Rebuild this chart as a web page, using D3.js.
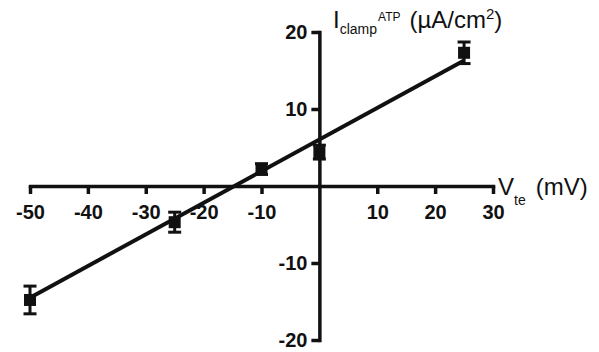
<!DOCTYPE html>
<html lang="en">
<head>
    <meta charset="UTF-8">
    <title>Iclamp ATP vs Vte</title>
    <script src="https://d3js.org/d3.v7.min.js"></script>
    <style>
        body { margin: 0; background: #fff; }
        svg { display: block; }
        .axis path, .axis line { stroke: #111; stroke-width: 3.5px; }
        .axis text {
            font-family: "Liberation Sans", Arial, sans-serif;
            font-size: 20px;
            font-weight: bold;
            fill: #111;
        }
        .title {
            font-family: "Liberation Sans", Arial, sans-serif;
            fill: #111;
        }
    </style>
</head>
<body>
    <svg width="599" height="352"></svg>

    <script>
        // data
        const voltage = [-50, -25, -10, 0, 25];
        const current = [-14.8, -4.7, 2.2, 4.4, 17.3];
        const errors = [1.8, 1.3, 0.7, 0.9, 1.4];

        // linear fit, end points
        const fitX = [-50, 25];
        const fitY = [-14.5, 16.3];

        const xTicks = [-50, -40, -30, -20, -10, 10, 20, 30];
        const yTicks = [-20, -10, 10, 20];

        const svg = d3.select("svg");

        const x = d3.scaleLinear().domain([-50, 30]).range([30, 493]);
        const y = d3.scaleLinear().domain([-20, 20]).range([340, 32]);

        const plain = d => String(d); // hyphen, not unicode minus

        // x axis through y = 0
        svg.append("g")
            .attr("class", "axis")
            .attr("transform", `translate(0,${y(0)})`)
            .call(d3.axisBottom(x)
                .tickValues(xTicks)
                .tickFormat(plain)
                .tickSize(8)
                .tickSizeOuter(0)
                .tickPadding(11));

        // y axis through x = 0
        svg.append("g")
            .attr("class", "axis")
            .attr("transform", `translate(${x(0)},0)`)
            .call(d3.axisLeft(y)
                .tickValues(yTicks)
                .tickFormat(plain)
                .tickSize(8)
                .tickSizeOuter(0)
                .tickPadding(4));

        svg.selectAll(".axis .domain").attr("stroke-linecap", "square");

        // fit line
        const line = d3.line().x(d => x(d[0])).y(d => y(d[1]));
        svg.append("path")
            .datum(fitX.map((v, i) => [v, fitY[i]]))
            .attr("d", line)
            .attr("fill", "none")
            .attr("stroke", "#111")
            .attr("stroke-width", 4);

        const pts = voltage.map((v, i) => ({ v: v, c: current[i], e: errors[i] }));

        // error bars
        const bars = svg.append("g").selectAll("g")
            .data(pts)
            .enter().append("g");

        bars.append("line")
            .attr("x1", d => x(d.v)).attr("x2", d => x(d.v))
            .attr("y1", d => y(d.c + d.e)).attr("y2", d => y(d.c - d.e))
            .attr("stroke", "#111").attr("stroke-width", 3);

        bars.append("line")
            .attr("x1", d => x(d.v) - 6.5).attr("x2", d => x(d.v) + 6.5)
            .attr("y1", d => y(d.c + d.e)).attr("y2", d => y(d.c + d.e))
            .attr("stroke", "#111").attr("stroke-width", 3);

        bars.append("line")
            .attr("x1", d => x(d.v) - 6.5).attr("x2", d => x(d.v) + 6.5)
            .attr("y1", d => y(d.c - d.e)).attr("y2", d => y(d.c - d.e))
            .attr("stroke", "#111").attr("stroke-width", 3);

        // square markers
        svg.append("g").selectAll("rect")
            .data(pts)
            .enter().append("rect")
            .attr("x", d => x(d.v) - 6)
            .attr("y", d => y(d.c) - 6)
            .attr("width", 12)
            .attr("height", 12)
            .attr("fill", "#111");

        // y axis title
        const yt = svg.append("text")
            .attr("class", "title")
            .attr("x", 333)
            .attr("y", 28)
            .style("font-size", "24px");
        yt.append("tspan").text("I");
        yt.append("tspan").attr("dy", 6).style("font-size", "14px").text("clamp");
        yt.append("tspan").attr("dy", -13).attr("dx", 1).style("font-size", "12px").text("ATP");
        yt.append("tspan").attr("dy", 7).attr("dx", 9).text("(\u00B5A/cm");
        yt.append("tspan").attr("dy", -9).style("font-size", "15px").text("2");
        yt.append("tspan").attr("dy", 9).text(")");

        // x axis title
        const xt = svg.append("text")
            .attr("class", "title")
            .attr("x", 498)
            .attr("y", 195)
            .style("font-size", "24px");
        xt.append("tspan").text("V");
        xt.append("tspan").attr("dy", 10).style("font-size", "14px").text("te");
        xt.append("tspan").attr("dy", -10).attr("dx", 10).text("(mV)");
    </script>
</body>
</html>
